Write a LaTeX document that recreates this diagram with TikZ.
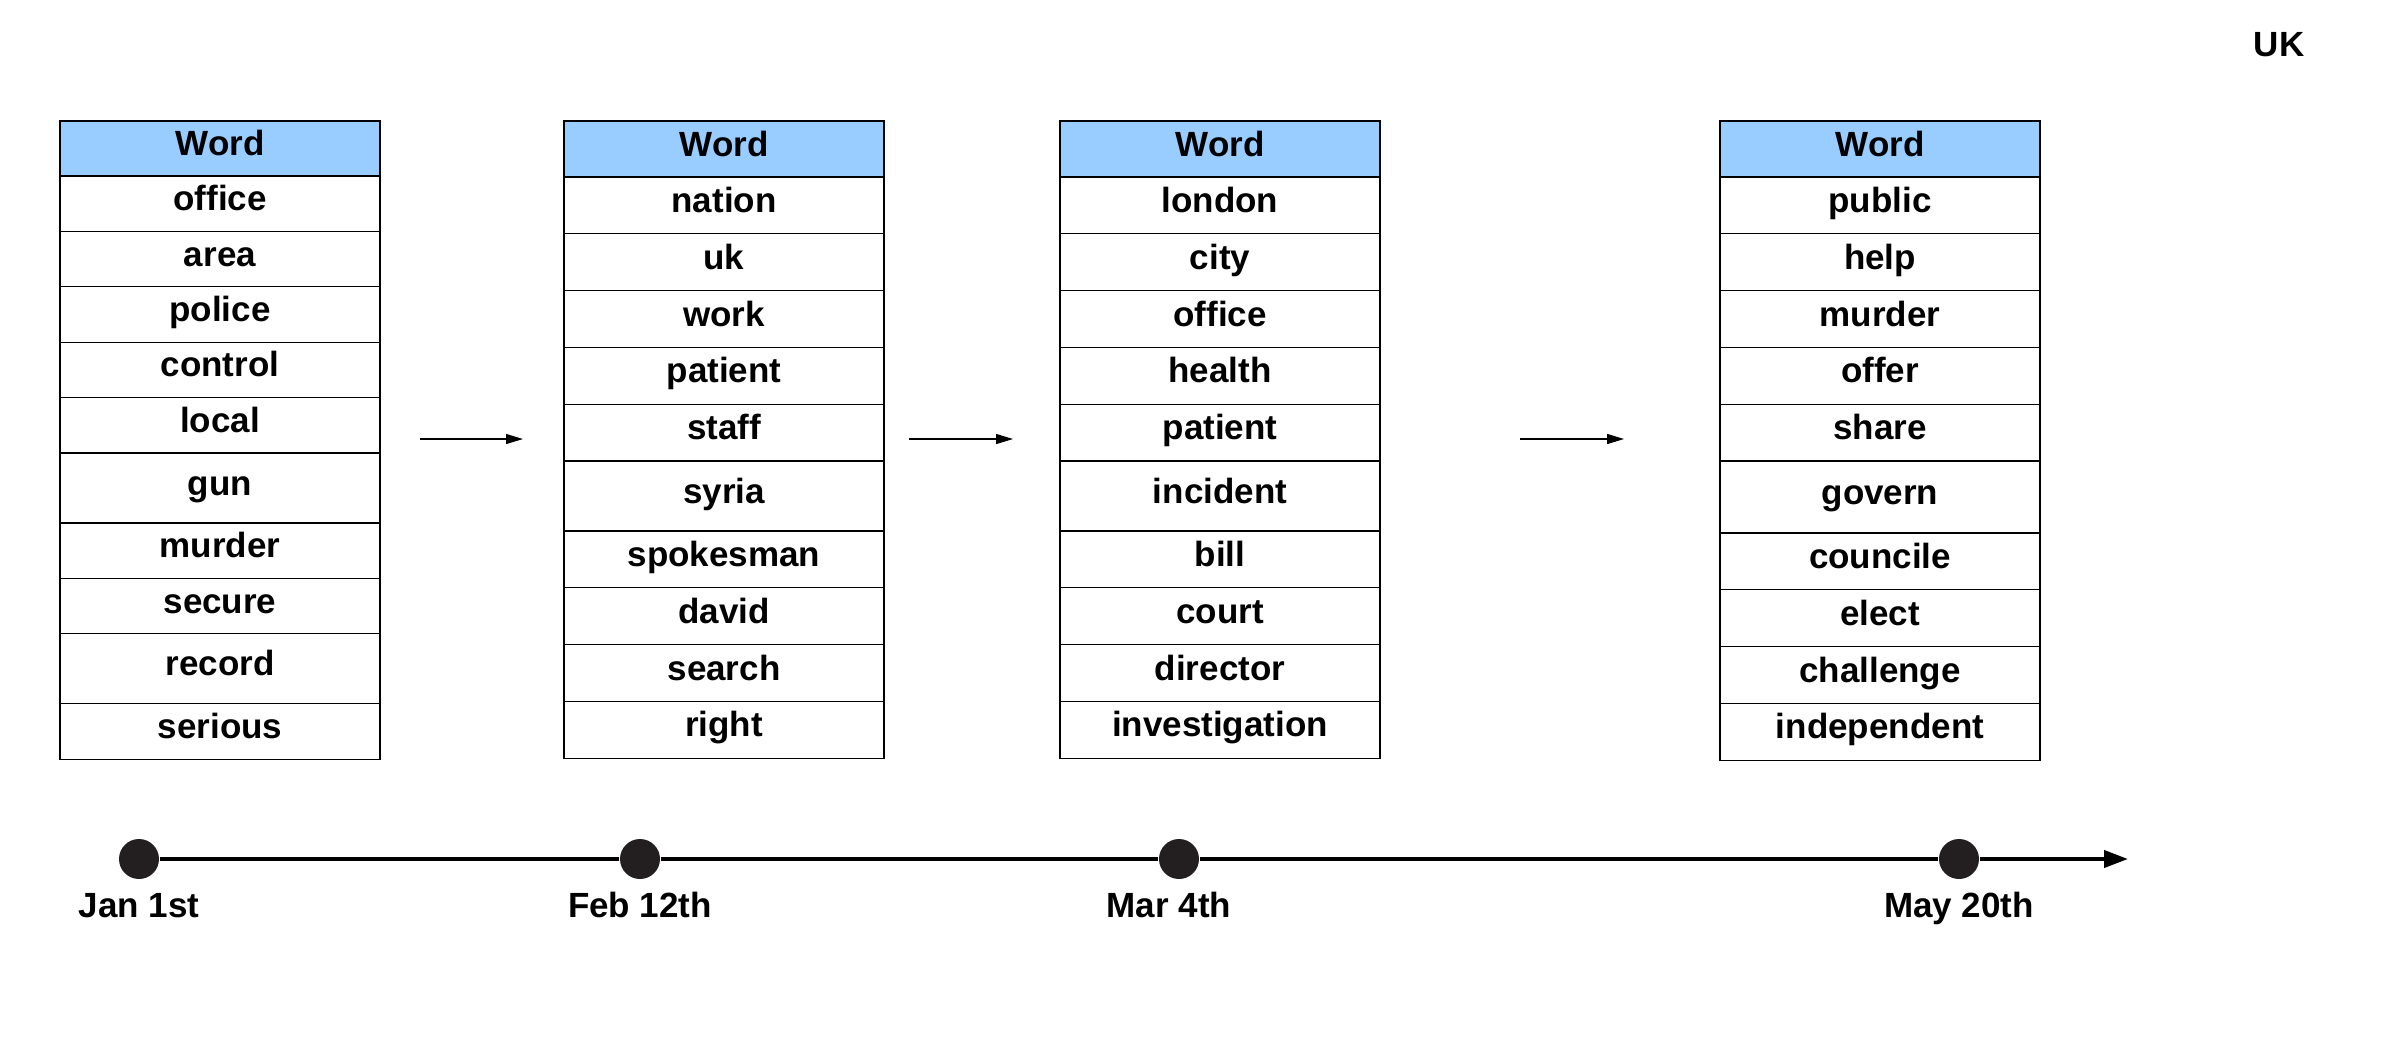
\documentclass[tikz,border=0pt]{standalone}
\usepackage{fontspec}
\setmainfont{Liberation Sans}
\usetikzlibrary{positioning,arrows.meta}
\definecolor{headblue}{RGB}{153,204,255}
\definecolor{dotgrey}{RGB}{35,31,32}
\tikzset{
	cell/.style={draw, line width=0.6pt, minimum width=160pt, minimum height=28.4pt,
		inner sep=0pt, outer sep=0pt, text height=12.25pt, text depth=5.25pt,
		font=\fontsize{17.5}{21}\selectfont\bfseries},
	tallcell/.style={minimum height=35pt},
	headcell/.style={cell, fill=headblue, minimum height=28pt},
	datedot/.style={circle, fill=dotgrey, minimum size=20pt, inner sep=0pt},
	datelbl/.style={font=\fontsize{17.5}{21}\selectfont\bfseries, text height=12.6pt,
		text depth=0pt, inner sep=0pt},
	steparrow/.style={line width=0.7pt, -{Triangle[length=8.5pt,width=5pt]}}}
\tikzset{every picture/.style={line width=0.75pt}}

\begin{document}
\begin{tikzpicture}[x=0.5pt,y=0.5pt,yscale=-1,xscale=1]
	\fill[white] (0,0) rectangle (2400,1040);
	\useasboundingbox (0,0) rectangle (2400,1040);

	% Text Node
	\node[datelbl] (country) at (2279,44) {UK};

	%Table: Jan 1st
	\begin{scope}[cell/.append style={minimum height=27.7pt}]
	\node[headcell, minimum height=27.5pt] (janhd) at (220,148.5) {Word};
	\node[cell, below=0pt of janhd] (jan1) {office};
	\node[cell, below=0pt of jan1] (jan2) {area};
	\node[cell, below=0pt of jan2] (jan3) {police};
	\node[cell, below=0pt of jan3] (jan4) {control};
	\node[cell, below=0pt of jan4] (jan5) {local};
	\node[cell, tallcell, below=0pt of jan5] (jan6) {gun};
	\node[cell, below=0pt of jan6] (jan7) {murder};
	\node[cell, below=0pt of jan7] (jan8) {secure};
	\node[cell, tallcell, below=0pt of jan8] (jan9) {record};
	\node[cell, below=0pt of jan9] (jan10) {serious};
	\end{scope}

	%Table: Feb 12th
	\node[headcell] (febhd) at (724,149) {Word};
	\node[cell, below=0pt of febhd] (feb1) {nation};
	\node[cell, below=0pt of feb1] (feb2) {uk};
	\node[cell, below=0pt of feb2] (feb3) {work};
	\node[cell, below=0pt of feb3] (feb4) {patient};
	\node[cell, below=0pt of feb4] (feb5) {staff};
	\node[cell, tallcell, below=0pt of feb5] (feb6) {syria};
	\node[cell, below=0pt of feb6] (feb7) {spokesman};
	\node[cell, below=0pt of feb7] (feb8) {david};
	\node[cell, below=0pt of feb8] (feb9) {search};
	\node[cell, below=0pt of feb9] (feb10) {right};

	%Table: Mar 4th
	\node[headcell] (marhd) at (1220,149) {Word};
	\node[cell, below=0pt of marhd] (mar1) {london};
	\node[cell, below=0pt of mar1] (mar2) {city};
	\node[cell, below=0pt of mar2] (mar3) {office};
	\node[cell, below=0pt of mar3] (mar4) {health};
	\node[cell, below=0pt of mar4] (mar5) {patient};
	\node[cell, tallcell, below=0pt of mar5] (mar6) {incident};
	\node[cell, below=0pt of mar6] (mar7) {bill};
	\node[cell, below=0pt of mar7] (mar8) {court};
	\node[cell, below=0pt of mar8] (mar9) {director};
	\node[cell, below=0pt of mar9] (mar10) {investigation};

	%Table: May 20th
	\node[headcell] (mayhd) at (1880,149) {Word};
	\node[cell, below=0pt of mayhd] (may1) {public};
	\node[cell, below=0pt of may1] (may2) {help};
	\node[cell, below=0pt of may2] (may3) {murder};
	\node[cell, below=0pt of may3] (may4) {offer};
	\node[cell, below=0pt of may4] (may5) {share};
	\node[cell, tallcell, minimum height=36pt, below=0pt of may5] (may6) {govern};
	\node[cell, below=0pt of may6] (may7) {councile};
	\node[cell, below=0pt of may7] (may8) {elect};
	\node[cell, below=0pt of may8] (may9) {challenge};
	\node[cell, below=0pt of may9] (may10) {independent};

	%Straight Lines between the tables
	\coordinate (arr1s) at (420,439);
	\coordinate (arr1e) at (523,439);
	\coordinate (arr2s) at (909,439);
	\coordinate (arr2e) at (1013,439);
	\coordinate (arr3s) at (1520,439);
	\coordinate (arr3e) at (1624,439);
	\draw[steparrow] (arr1s) -- (arr1e);
	\draw[steparrow] (arr2s) -- (arr2e);
	\draw[steparrow] (arr3s) -- (arr3e);

	%Shape: Circle (time line dots)
	\node[datedot] (jan) at (139,859) {};
	\node[datedot] (feb) at (640,859) {};
	\node[datedot] (mar) at (1179,859) {};
	\node[datedot] (may) at (1959,859) {};
	\coordinate (tend) at (2128,859);

	%Straight Lines [time line]
	\draw[line width=2pt] (jan) -- (feb) -- (mar) -- (may);
	\draw[line width=2pt, -{Triangle[length=12pt,width=8.5pt]}] (may) -- (tend);

	% Text Node
	\node[datelbl] (janlbl) at (139,905) {Jan 1st};
	% Text Node
	\node[datelbl] (feblbl) at (640,905) {Feb 12th};
	% Text Node
	\node[datelbl] (marlbl) at (1169,905) {Mar 4th};
	% Text Node
	\node[datelbl] (maylbl) at (1959,905) {May 20th};

\end{tikzpicture}
\end{document}
